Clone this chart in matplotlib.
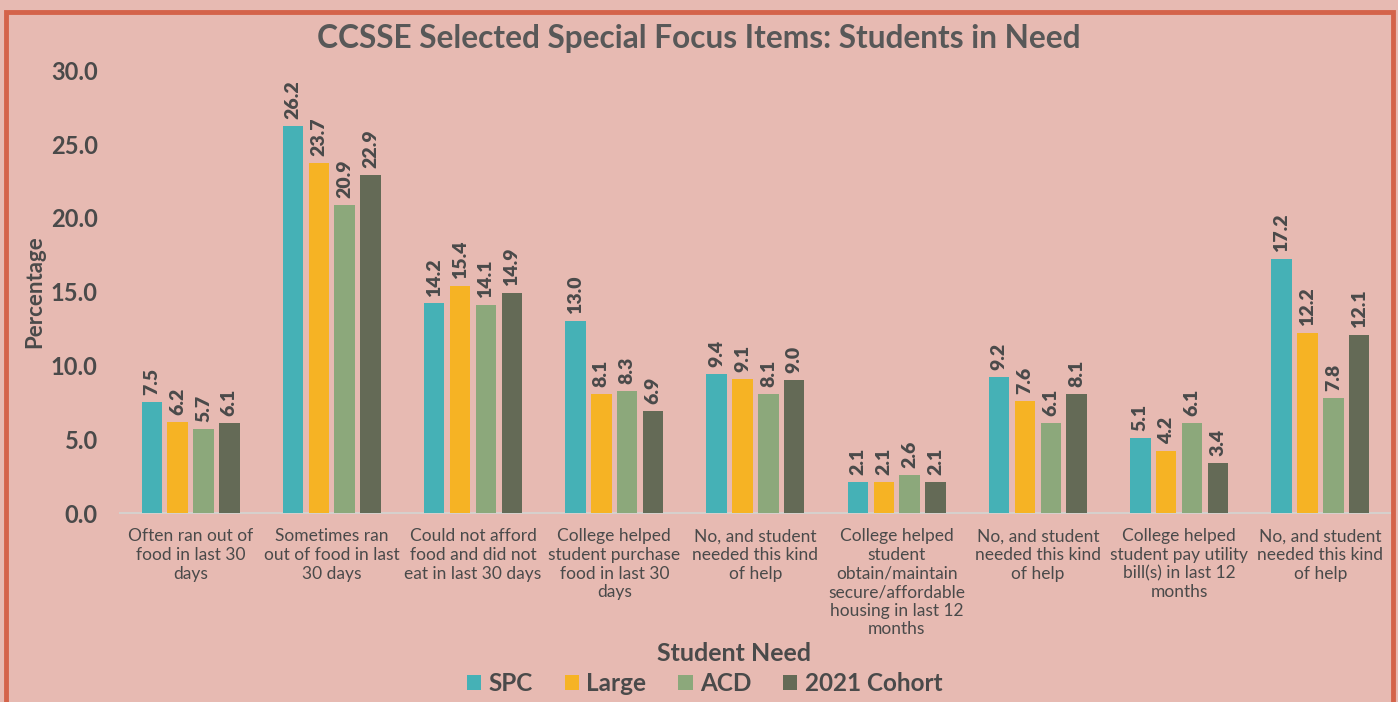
import matplotlib.pyplot as plt
import numpy as np
from matplotlib.patches import Rectangle

plt.rcParams['font.family'] = ['Lato', 'DejaVu Sans']

categories = [
    "Often ran out of\nfood in last 30\ndays",
    "Sometimes ran\nout of food in last\n30 days",
    "Could not afford\nfood and did not\neat in last 30 days",
    "College helped\nstudent purchase\nfood in last 30\ndays",
    "No, and student\nneeded this kind\nof help",
    "College helped\nstudent\nobtain/maintain\nsecure/affordable\nhousing in last 12\nmonths",
    "No, and student\nneeded this kind\nof help",
    "College helped\nstudent pay utility\nbill(s) in last 12\nmonths",
    "No, and student\nneeded this kind\nof help",
]
series_names = ["SPC", "Large", "ACD", "2021 Cohort"]
spc = [7.5, 26.2, 14.2, 13.0, 9.4, 2.1, 9.2, 5.1, 17.2]
large = [6.2, 23.7, 15.4, 8.1, 9.1, 2.1, 7.6, 4.2, 12.2]
acd = [5.7, 20.9, 14.1, 8.3, 8.1, 2.6, 6.1, 6.1, 7.8]
cohort = [6.1, 22.9, 14.9, 6.9, 9.0, 2.1, 8.1, 3.4, 12.1]
colors = ["#45b1b6", "#f6b324", "#8ca87b", "#646a56"]

text_col = "#4a4a4a"
bg = "#e7bab2"

fig = plt.figure(figsize=(13.98, 7.02), dpi=100, facecolor=bg)
ax = fig.add_axes([0.0858, 0.269, 0.9092, 0.631])
ax.set_facecolor("none")

x = np.arange(len(categories))
pitch = 0.183
width = 0.145
for i, vals in enumerate([spc, large, acd, cohort]):
    pos = x + (i - 1.5) * pitch
    ax.bar(pos, vals, width, color=colors[i], label=series_names[i], zorder=3)
    for px, v in zip(pos, vals):
        ax.annotate(f"{v:.1f}", (px, v), xytext=(0, 5), textcoords="offset points",
                    rotation=90, ha="center", va="bottom", fontsize=14,
                    fontweight="heavy", color=text_col)

ax.set_xlim(-0.5, len(categories) - 0.5)
ax.set_ylim(0, 30)
ax.set_yticks(np.arange(0, 31, 5))
ax.set_yticklabels([f"{t:.1f}" for t in np.arange(0, 31, 5)], fontsize=17,
                   fontweight="bold", color=text_col)
ax.set_xticks(x)
ax.set_xticklabels(categories, fontsize=12.5, color=text_col, linespacing=1.2)
ax.tick_params(length=0, axis="y", pad=16)
ax.tick_params(length=0, axis="x", pad=11)
for s in ["top", "right", "left"]:
    ax.spines[s].set_visible(False)
ax.spines["bottom"].set_color("#d6d0cc")
ax.spines["bottom"].set_linewidth(1.5)

ax.set_ylabel("Percentage", fontsize=16, fontweight="bold", color=text_col, labelpad=4)
fig.text(0.5, 0.945, "CCSSE Selected Special Focus Items: Students in Need",
         ha="center", va="center", fontsize=22.8, fontweight="bold", color="#585858")
fig.text(0.525, 0.069, "Student Need", ha="center", va="center", fontsize=18,
         fontweight="bold", color=text_col)

handles, labels = ax.get_legend_handles_labels()
leg = fig.legend(handles, labels, loc="center", bbox_to_anchor=(0.504, 0.026), ncol=4,
                 frameon=False, handlelength=0.6, handleheight=0.6, handletextpad=0.3,
                 columnspacing=1.3, prop={"size": 17.5, "weight": "bold"})
for t in leg.get_texts():
    t.set_color(text_col)

# orange frame
fig.patches.append(Rectangle((6 / 1398, -0.1), 1387 / 1398, 1.1 - 12 / 702,
                             transform=fig.transFigure, fill=False,
                             edgecolor="#d4634a", linewidth=3.5, zorder=0))

fig.savefig("out.png", dpi=100, facecolor=bg)
